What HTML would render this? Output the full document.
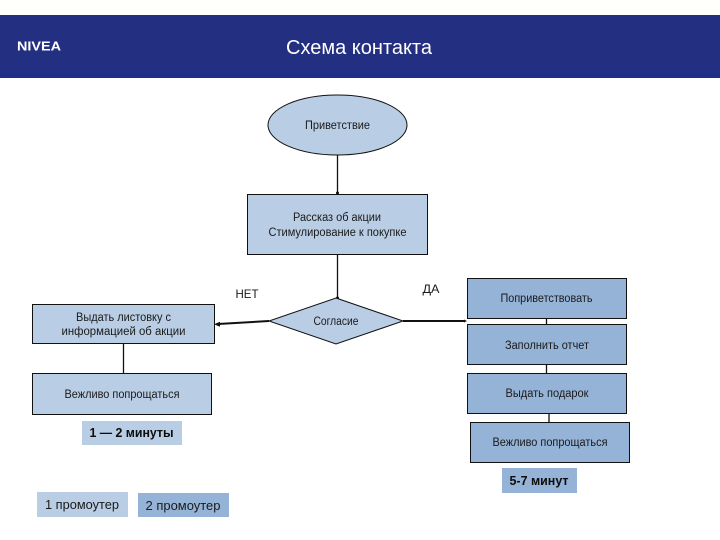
<!DOCTYPE html>
<html lang="ru"><head><meta charset="utf-8"><title>Схема контакта</title>
<style>
html,body{margin:0;padding:0;background:#fff}
svg{display:block}
text{font-family:"Liberation Sans","DejaVu Sans",sans-serif;font-size:11.5px;fill:#1a1a1a;text-anchor:middle}
.b{font-weight:bold;font-size:12.5px;fill:#0d0d0d}
</style></head><body>
<svg width="720" height="540" viewBox="0 0 720 540" xmlns="http://www.w3.org/2000/svg">
<rect width="720" height="14" fill="#fffffb"/>
<rect y="15" width="720" height="63" fill="#232f81"/>
<rect y="72" width="720" height="6" fill="#1e2e8a"/>
<text x="39" y="50.500" style="font-size:13px;font-weight:bold;fill:#fff" textLength="44" lengthAdjust="spacingAndGlyphs">NIVEA</text>
<text x="359" y="54" style="font-size:20px;fill:#fff" textLength="146" lengthAdjust="spacingAndGlyphs">Схема контакта</text>

<g stroke="#111" fill="none" stroke-width="1.3">
<path d="M337.5 155V194M337.5 254V298M123.500 343V373M546.500 318V324M546.500 364V373M549 413V422"/>
<path d="M269 321L218 324" stroke-width="2"/>
<path d="M403 321H465" stroke-width="2"/>
</g>
<path d="M214 324.300l6-2.500v5z" fill="#111"/>
<path d="M467 321l-3-1.500v3z" fill="#111"/>
<circle cx="337.500" cy="193" r="1.500" fill="#111"/>
<circle cx="337.500" cy="298" r="1.500" fill="#111"/>

<g stroke="#111" stroke-width="1">
<ellipse cx="337.500" cy="125" rx="69.500" ry="30" fill="#b9cde5"/>
<rect x="247.500" y="194.500" width="180" height="60" fill="#b9cde5"/>
<path d="M336 298L403 321L336 344L269 321Z" fill="#b9cde5"/>
<rect x="32.500" y="304.500" width="182" height="39" fill="#b9cde5"/>
<rect x="32.500" y="373.500" width="179" height="41" fill="#b9cde5"/>
<rect x="467.500" y="278.500" width="159" height="40" fill="#95b3d7"/>
<rect x="467.500" y="324.500" width="159" height="40" fill="#95b3d7"/>
<rect x="467.500" y="373.500" width="159" height="40" fill="#95b3d7"/>
<rect x="470.500" y="422.500" width="159" height="40" fill="#95b3d7"/>
</g>
<rect x="82" y="421" width="100" height="24" fill="#b9cde5"/>
<rect x="502" y="468" width="75" height="25" fill="#95b3d7"/>
<rect x="37" y="492" width="91" height="25" fill="#b9cde5"/>
<rect x="138" y="493" width="91" height="24" fill="#95b3d7"/>

<text x="337.500" y="129" textLength="65" lengthAdjust="spacingAndGlyphs">Приветствие</text>
<text x="337" y="221" textLength="88" lengthAdjust="spacingAndGlyphs">Рассказ об акции</text>
<text x="337.500" y="236" textLength="138" lengthAdjust="spacingAndGlyphs">Стимулирование к покупке</text>
<text x="247" y="298" style="font-size:12px" textLength="23" lengthAdjust="spacingAndGlyphs">НЕТ</text>
<text x="431" y="293" style="font-size:12px" textLength="17" lengthAdjust="spacingAndGlyphs">ДА</text>
<text x="336" y="325" textLength="45" lengthAdjust="spacingAndGlyphs">Согласие</text>
<text x="123.500" y="321" textLength="95" lengthAdjust="spacingAndGlyphs">Выдать листовку с</text>
<text x="123.500" y="335" textLength="124" lengthAdjust="spacingAndGlyphs">информацией об акции</text>
<text x="122" y="398" textLength="115" lengthAdjust="spacingAndGlyphs">Вежливо попрощаться</text>
<text x="131.500" y="437" class="b" textLength="84" lengthAdjust="spacingAndGlyphs">1 — 2 минуты</text>
<text x="546.500" y="302" textLength="92" lengthAdjust="spacingAndGlyphs">Поприветствовать</text>
<text x="547" y="349" textLength="84" lengthAdjust="spacingAndGlyphs">Заполнить отчет</text>
<text x="547" y="397" textLength="83" lengthAdjust="spacingAndGlyphs">Выдать подарок</text>
<text x="550" y="446" textLength="115" lengthAdjust="spacingAndGlyphs">Вежливо попрощаться</text>
<text x="539" y="485" class="b" textLength="59" lengthAdjust="spacingAndGlyphs">5-7 минут</text>
<text x="82" y="509" style="font-size:13px" textLength="74" lengthAdjust="spacingAndGlyphs">1 промоутер</text>
<text x="183" y="510" style="font-size:13px" textLength="75" lengthAdjust="spacingAndGlyphs">2 промоутер</text>
</svg>
</body></html>
